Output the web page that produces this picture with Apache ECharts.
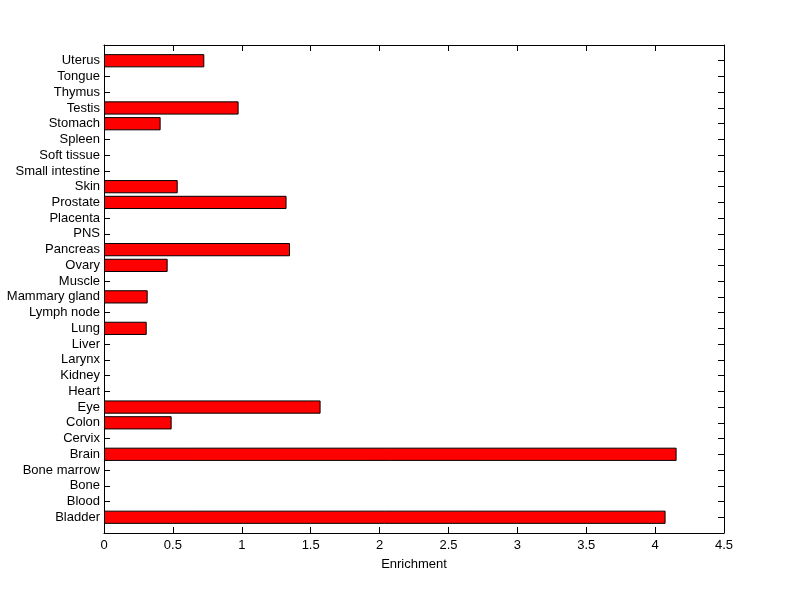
<!DOCTYPE html>
<html>
<head>
<meta charset="utf-8">
<script src="https://cdn.jsdelivr.net/npm/echarts@6/dist/echarts.min.js"></script>
<style>html,body{margin:0;padding:0;background:#fff}#c{width:800px;height:599px}</style>
</head>
<body>
<div id="c"></div>
<script>
const categories = ["Bladder","Blood","Bone","Bone marrow","Brain","Cervix","Colon","Eye","Heart","Kidney","Larynx","Liver","Lung","Lymph node","Mammary gland","Muscle","Ovary","Pancreas","PNS","Placenta","Prostate","Skin","Small intestine","Soft tissue","Spleen","Stomach","Testis","Thymus","Tongue","Uterus"];
const enrichment = [4.076,null,null,null,4.156,null,0.491,1.572,null,null,null,null,0.31,null,0.317,null,0.462,1.35,null,null,1.325,0.535,null,null,null,0.411,0.977,null,null,0.728];
const xTicks = [0,0.5,1,1.5,2,2.5,3,3.5,4,4.5];
const xLabel = "Enrichment";

// pad one empty slot at each end so the axis runs from 0 to n+1 like the original
const yCats = [''].concat(categories, ['']);
const yVals = [null].concat(enrichment, [null]);

const chart = echarts.init(document.getElementById('c'), null, {renderer:'canvas'});
const font = 'Liberation Sans, Arial, sans-serif';
const tick = {show:true,inside:true,length:6,lineStyle:{color:'#000',width:1}};
const line = {show:true,onZero:false,lineStyle:{color:'#000',width:1}};
chart.setOption({
  animation:false,
  backgroundColor:'#fff',
  grid:{left:104,right:76,top:45,bottom:66,containLabel:false},
  xAxis:[{
    type:'value',min:xTicks[0],max:xTicks[xTicks.length-1],interval:0.5,position:'bottom',
    name:xLabel,nameLocation:'middle',nameGap:25,
    nameTextStyle:{color:'#000',fontFamily:font,fontSize:13},
    axisLine:line, axisTick:tick,
    axisLabel:{color:'#000',fontFamily:font,fontSize:13,margin:6},
    splitLine:{show:false}
  },{
    type:'value',min:xTicks[0],max:xTicks[xTicks.length-1],interval:0.5,position:'top',
    axisLine:line, axisTick:tick,
    axisLabel:{show:false},splitLine:{show:false}
  }],
  yAxis:[{
    type:'category',data:yCats,position:'left',boundaryGap:false,
    axisLine:line, axisTick:Object.assign({alignWithLabel:true,interval:0},tick),
    axisLabel:{color:'#000',fontFamily:font,fontSize:13,margin:4,interval:0},
    splitLine:{show:false}
  },{
    type:'category',data:yCats,position:'right',boundaryGap:false,
    axisLine:line, axisTick:Object.assign({alignWithLabel:true,interval:0},tick),
    axisLabel:{show:false},splitLine:{show:false}
  }],
  series:[{
    type:'bar',data:yVals,xAxisIndex:0,yAxisIndex:0,
    barCategoryGap:'16%',
    itemStyle:{color:'#ff0000',borderColor:'#000',borderWidth:1}
  }]
});
</script>
</body>
</html>
